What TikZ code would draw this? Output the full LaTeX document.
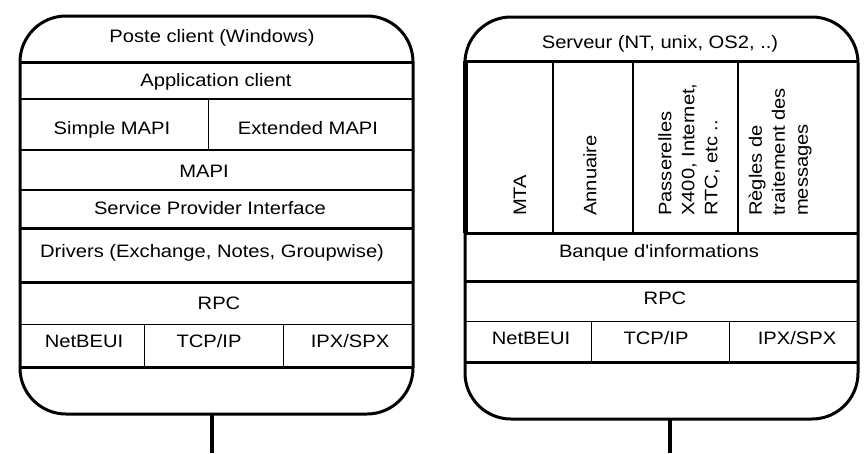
\documentclass[tikz,border=0pt]{standalone}
\usepackage{fontspec}
\setmainfont{Liberation Sans}[FakeStretch=1.12,Ligatures=TeXOff]
\begin{document}
\begin{tikzpicture}[x=1pt,y=-1pt,font=\fontsize{18}{23}\selectfont,
  couche/.style={inner sep=0pt,text height=13pt,text depth=0pt},
  colonne/.style={inner sep=0pt,rotate=90,anchor=west,align=left},
  bord/.style={line width=3pt},
  fin/.style={line width=0.8pt}]
  \useasboundingbox (0,0) rectangle (865,453);
  % poste client
  \draw[bord,rounded corners=46pt] (20,16) rectangle (413,414);
  \foreach \y/\w in {62/3pt,99/2.5pt,150/2pt,190/1.5pt,228/3pt,282/3pt,324/0.8pt,367/3pt}
    {\draw[line width=\w] (20,\y) -- (413,\y);}
  \draw[fin] (208,99) -- (208,150);
  \foreach \x in {144,283} {\draw[fin] (\x,324) -- (\x,367);}
  \node[couche] (poste) at (212,36) {Poste client (Windows)};
  \node[couche] (appli) at (216,80) {Application client};
  \node[couche] (simple) at (112,128) {Simple MAPI};
  \node[couche] (extended) at (308,128) {Extended MAPI};
  \node[couche] (mapi) at (204,171) {MAPI};
  \node[couche] (spi) at (210,208) {Service Provider Interface};
  \node[couche] (drivers) at (212,251) {Drivers (Exchange, Notes, Groupwise)};
  \node[couche] (rpcc) at (219,303) {RPC};
  \node[couche] (netbeuic) at (84,341) {NetBEUI};
  \node[couche] (tcpipc) at (209,341) {TCP/IP};
  \node[couche] (ipxc) at (350,341) {IPX/SPX};
  \coordinate (clientbas) at (212,414);
  \coordinate (clientreseau) at (212,453);
  \draw[line width=3.5pt] (clientbas) -- (clientreseau);
  % serveur
  \draw[bord,rounded corners=46pt] (465,17) rectangle (858,419);
  \foreach \y/\w in {61/3pt,233/3pt,281/3pt,321/0.8pt,362/3pt}
    {\draw[line width=\w] (465,\y) -- (858,\y);}
  \draw[line width=5pt] (465,61) -- (465,233);
  \foreach \x in {553,633,738} {\draw[line width=2.5pt] (\x,61) -- (\x,233);}
  \foreach \x in {591,729} {\draw[fin] (\x,321) -- (\x,362);}
  \node[couche] (serveur) at (660,42) {Serveur (NT, unix, OS2, ..)};
  \node[colonne] (mta) at (520,216) {MTA};
  \node[colonne] (annuaire) at (590,216) {Annuaire};
  \node[colonne] (passerelles) at (689,216) {Passerelles\\X400, Internet,\\RTC, etc ..};
  \node[colonne] (regles) at (780,216) {Règles de\\traitement des\\messages};
  \node[couche] (banque) at (659,251) {Banque d'informations};
  \node[couche] (rpcs) at (665,298) {RPC};
  \node[couche] (netbeuis) at (531,338) {NetBEUI};
  \node[couche] (tcpips) at (656,338) {TCP/IP};
  \node[couche] (ipxs) at (797,338) {IPX/SPX};
  \coordinate (serveurbas) at (670,419);
  \coordinate (serveurreseau) at (670,453);
  \draw[line width=3.5pt] (serveurbas) -- (serveurreseau);
\end{tikzpicture}
\end{document}
